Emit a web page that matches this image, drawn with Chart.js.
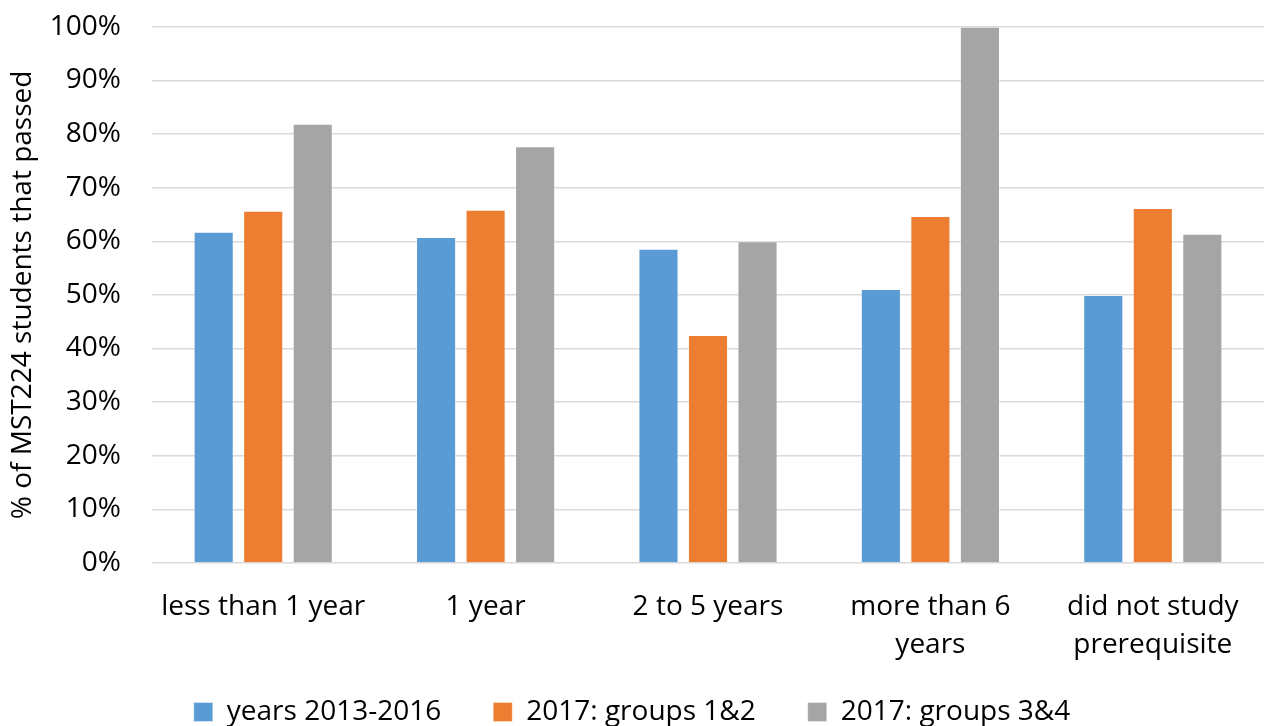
<!DOCTYPE html>
<html>
<head>
<meta charset="utf-8">
<script src="https://cdn.jsdelivr.net/npm/chart.js@4"></script>
<style>
  html, body { margin: 0; padding: 0; background: #ffffff; }
  #wrap { width: 1264px; height: 726px; }
</style>
</head>
<body>
<div id="wrap"><canvas id="chart" width="1264" height="726"></canvas></div>
<script>
// Prior study of the prerequisite module, by group
const categories = [
  'less than 1 year',
  '1 year',
  '2 to 5 years',
  ['more than 6', 'years'],
  ['did not study', 'prerequisite']
];
const seriesNames = ['years 2013-2016', '2017: groups 1&2', '2017: groups 3&4'];
const years2013to2016 = [61.8, 60.8, 58.6, 51.1, 50.0];
const groups1and2 = [65.7, 65.9, 42.5, 64.7, 66.2];
const groups3and4 = [81.9, 77.7, 60.0, 100.0, 61.4];
const yTickValues = [0, 10, 20, 30, 40, 50, 60, 70, 80, 90, 100];

const colours = ['#5B9BD5', '#ED7D31', '#A5A5A5'];
const seriesValues = [years2013to2016, groups1and2, groups3and4];
const FONT = '"Open Sans"';

const datasets = seriesNames.map((name, i) => ({
  label: name,
  data: seriesValues[i],
  backgroundColor: colours[i],
  borderColor: 'rgba(255,255,255,0.35)',
  borderWidth: 1,
  categoryPercentage: 0.668,
  barPercentage: 0.81
}));

// Let the two-line category labels extend below the x axis box into the legend band.
const labelRoom = {
  id: 'labelRoom',
  afterLayout(chart) { chart.scales.x.bottom = chart.height; }
};

new Chart(document.getElementById('chart'), {
  type: 'bar',
  data: { labels: categories, datasets },
  plugins: [labelRoom],
  options: {
    responsive: false,
    animation: false,
    devicePixelRatio: 1,
    layout: { padding: { top: 0, right: 0, bottom: -10, left: 0 } },
    plugins: {
      tooltip: { enabled: false },
      legend: {
        position: 'bottom',
        align: 'center',
        labels: {
          color: '#000000',
          font: { family: FONT, size: 28 },
          boxWidth: 19,
          boxHeight: 19,
          padding: 52
        }
      }
    },
    scales: {
      x: {
        grid: { display: false, drawTicks: false },
        border: { display: false },
        ticks: {
          color: '#000000',
          font: { family: FONT, size: 28, lineHeight: 38 / 28 },
          padding: 25,
          maxRotation: 0,
          autoSkip: false
        },
        afterFit: (scale) => { scale.height = 83; }
      },
      y: {
        min: 0,
        max: 100,
        afterBuildTicks: (scale) => { scale.ticks = yTickValues.map(v => ({ value: v })); },
        grid: {
          color: '#d9d9d9',
          lineWidth: 1.5,
          drawTicks: true,
          tickLength: 21,
          tickColor: 'rgba(0,0,0,0)'
        },
        border: { display: false },
        ticks: {
          color: '#000000',
          font: { family: FONT, size: 28 },
          padding: 10,
          callback: (v) => v + '%'
        },
        title: {
          display: true,
          text: '% of MST224 students that passed',
          color: '#000000',
          font: { family: FONT, size: 28 },
          padding: { top: 6, bottom: 0 }
        },
        afterFit: (scale) => { scale.width = 152; }
      }
    }
  }
});
</script>
</body>
</html>
